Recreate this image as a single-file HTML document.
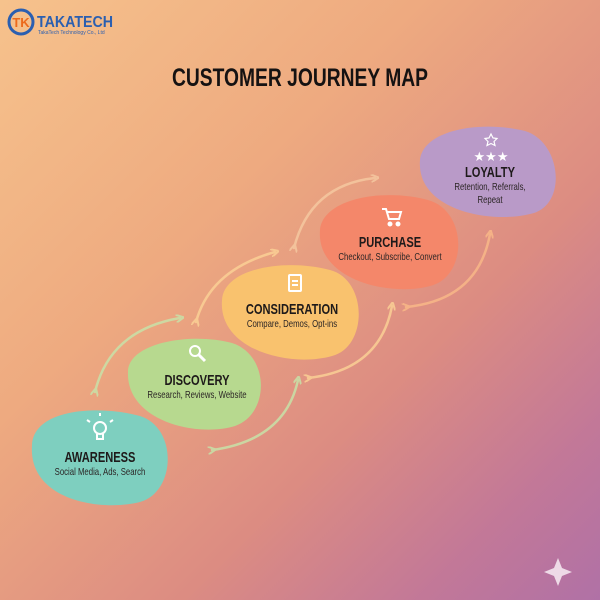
<!DOCTYPE html>
<html><head><meta charset="utf-8"><style>
body{margin:0;width:600px;height:600px;overflow:hidden;font-family:"Liberation Sans",sans-serif}
#bg{position:absolute;left:0;top:0;width:600px;height:600px;background:linear-gradient(135deg,#f6c28c 0%,#eeaa80 35%,#dc8c82 65%,#c27898 85%,#b071a6 100%)}
.t{position:absolute;text-align:center;color:#1e1a1a;transform:scaleX(0.74);transform-origin:center}
.h{font-weight:bold;font-size:15px}
.s{font-size:10.5px;color:#2b2525}
</style></head><body><div id="bg"></div>
<svg width="600" height="600" style="position:absolute;left:0;top:0">
<defs>
<marker id="ma" markerWidth="8" markerHeight="8" refX="4" refY="4" orient="auto" markerUnits="userSpaceOnUse"><path d="M0,0 L8,4 L0,8" fill="none" stroke="context-stroke" stroke-width="2"/></marker>
</defs>
<g fill="none" stroke-width="2.5" stroke-linecap="round" opacity="0.85">
<path d="M95,392 Q110,330 180,318" stroke="#c8e2a8" marker-start="url(#ma)" marker-end="url(#ma)"/>
<path d="M212,450 Q285,440 298,380" stroke="#c8e2a8" marker-start="url(#ma)" marker-end="url(#ma)"/>
<path d="M196,322 Q210,270 275,252" stroke="#fbd095" marker-start="url(#ma)" marker-end="url(#ma)"/>
<path d="M308,378 Q380,370 392,306" stroke="#fbd095" marker-start="url(#ma)" marker-end="url(#ma)"/>
<path d="M294,248 Q310,185 375,178" stroke="#f5c8a0" marker-start="url(#ma)" marker-end="url(#ma)"/>
<path d="M406,307 Q478,300 490,234" stroke="#f9b888" marker-start="url(#ma)" marker-end="url(#ma)"/>
</g>
<path d="M32,445 C34,408 100,405 140,416 C178,428 176,492 140,502 C100,512 28,500 32,445Z" fill="#7ecfbf"/>
<path d="M128,372 C128,343 190,332 232,343 C270,355 270,414 235,426 C195,438 126,420 128,372Z" fill="#b7d98f"/>
<path d="M222,300 C224,268 285,258 330,270 C368,280 368,347 332,356 C290,368 218,350 222,300Z" fill="#f9c26e"/>
<path d="M320,230 C323,198 385,188 428,200 C468,211 468,277 430,286 C390,297 316,280 320,230Z" fill="#f4876a"/>
<path d="M420,160 C423,130 480,120 525,131 C562,142 568,207 530,214 C490,224 416,210 420,160Z" fill="#b99ac8"/>
<g stroke="#fff" fill="none" stroke-width="2">
<circle cx="100" cy="428" r="6"/><path d="M97,434 v5 h6 v-5 M90,422 l-3,-2 M110,422 l3,-2 M100,416 v-3"/>
<circle cx="195" cy="351" r="5"/><path d="M199,355 l6,6" stroke-width="3"/>
<rect x="289" y="275" width="12" height="16" rx="1"/><path d="M292,281 h6 M292,285 h6"/>
<path d="M382,209 h4 l3,10 h10 l2,-7 h-14"/><circle cx="390" cy="224" r="1.5" fill="#fff"/><circle cx="398" cy="224" r="1.5" fill="#fff"/>
<path d="M491,134 l2,4 4,0.5 -3,3 1,4 -4,-2 -4,2 1,-4 -3,-3 4,-0.5z" stroke-width="1.2"/>
</g>
<text x="491" y="161" fill="#fff" font-size="13" text-anchor="middle">★★★</text>
<circle cx="21" cy="22" r="12" fill="none" stroke="#2b5fb0" stroke-width="3"/>
<text x="21" y="27" fill="#ec6a1c" font-weight="bold" font-size="13" text-anchor="middle">TK</text>
<text x="37" y="27" fill="#2b5fb0" font-weight="bold" font-size="16" textLength="76" lengthAdjust="spacingAndGlyphs">TAKATECH</text>
<text x="38" y="34" fill="#2b5fb0" font-size="5">TakaTech Technology Co., Ltd</text>
<path d="M558,558 l4,10 10,4 -10,4 -4,10 -4,-10 -10,-4 10,-4z" fill="#f4e6ee" opacity="0.9"/>
</svg>
<div class="t" style="left:0;top:64px;width:600px;font-weight:bold;font-size:25px;color:#151212;transform:scaleX(0.77)">CUSTOMER JOURNEY MAP</div>
<div class="t" style="left:20px;top:449px;width:160px"><div class="h">AWARENESS</div><div class="s">Social Media, Ads, Search</div></div>
<div class="t" style="left:117px;top:372px;width:160px"><div class="h">DISCOVERY</div><div class="s">Research, Reviews, Website</div></div>
<div class="t" style="left:212px;top:301px;width:160px"><div class="h">CONSIDERATION</div><div class="s">Compare, Demos, Opt-ins</div></div>
<div class="t" style="left:310px;top:234px;width:160px"><div class="h">PURCHASE</div><div class="s">Checkout, Subscribe, Convert</div></div>
<div class="t" style="left:410px;top:164px;width:160px"><div class="h">LOYALTY</div><div class="s" style="line-height:13px">Retention, Referrals,<br>Repeat</div></div>
</body></html>
